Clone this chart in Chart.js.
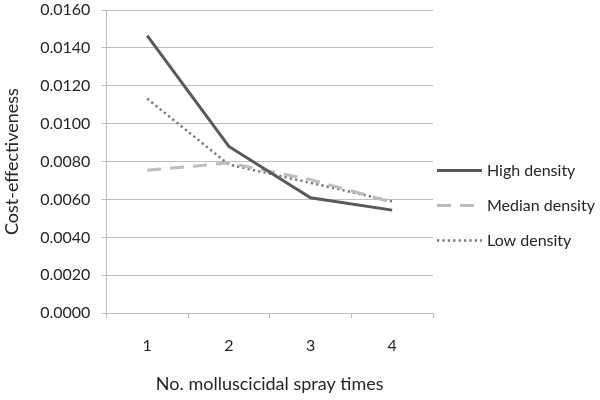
<!DOCTYPE html>
<html>
<head>
<meta charset="utf-8">
<script src="https://cdn.jsdelivr.net/npm/chart.js@4/dist/chart.umd.min.js"></script>
<style>
html,body{margin:0;padding:0;background:#fff;}
#wrap{width:600px;height:400px;}
</style>
</head>
<body>
<div id="wrap"><canvas id="c" width="600" height="400"></canvas></div>
<script>
const categories = ['1', '2', '3', '4'];
const highDensity = [0.01465, 0.0088, 0.00609, 0.00544];
const medianDensity = [0.00754, 0.00793, 0.00705, 0.00585];
const lowDensity = [0.01132, 0.00784, 0.00688, 0.00590];
const seriesNames = ['High density', 'Median density', 'Low density'];
const yAxisTitle = 'Cost-effectiveness';
const xAxisTitle = 'No. molluscicidal spray times';

const FONT = 'Lato, "Open Sans", sans-serif';
const TEXT = '#262626';

const sideLegend = {
  id: 'sideLegend',
  afterDraw(chart) {
    const ctx = chart.ctx;
    const area = chart.chartArea;
    const cy = (area.top + area.bottom) / 2 + 44;
    const step = 35;
    const n = chart.data.datasets.length;
    ctx.save();
    ctx.font = '16px ' + FONT;
    ctx.textBaseline = 'middle';
    ctx.fillStyle = TEXT;
    chart.data.datasets.forEach((ds, i) => {
      const y = cy + (i - (n - 1) / 2) * step;
      const x0 = area.right + 4;
      ctx.save();
      ctx.strokeStyle = ds.borderColor;
      ctx.lineWidth = ds.borderWidth;
      ctx.setLineDash(ds.borderDash || []);
      ctx.lineCap = 'butt';
      ctx.beginPath();
      ctx.moveTo(x0, y);
      ctx.lineTo(x0 + 45, y);
      ctx.stroke();
      ctx.restore();
      ctx.fillText(ds.label, x0 + 50, y);
    });
    ctx.restore();
  }
};

new Chart(document.getElementById('c'), {
  type: 'line',
  data: {
    labels: categories,
    datasets: [
      {label: seriesNames[0], data: highDensity, borderColor: '#595959', borderWidth: 3, pointRadius: 0, tension: 0, fill: false},
      {label: seriesNames[1], data: medianDensity, borderColor: '#bdbdbd', borderWidth: 3, borderDash: [14, 9], pointRadius: 0, tension: 0, fill: false},
      {label: seriesNames[2], data: lowDensity, borderColor: '#777777', borderWidth: 2.5, borderDash: [2.2, 3.2], pointRadius: 0, tension: 0, fill: false}
    ]
  },
  options: {
    responsive: false,
    animation: false,
    devicePixelRatio: 1,
    layout: {padding: {left: 0, right: 167, top: 0, bottom: 5}},
    plugins: {legend: {display: false}, tooltip: {enabled: false}},
    scales: {
      x: {
        offset: true,
        grid: {display: true, drawOnChartArea: false, drawTicks: true, tickLength: 5, offset: true, color: '#bdbdbd'},
        border: {color: '#bdbdbd'},
        ticks: {padding: 18, color: TEXT, font: {family: FONT, size: 16}},
        title: {display: true, text: xAxisTitle, color: TEXT, font: {family: FONT, size: 18}, padding: {top: 0, bottom: 0}}
      },
      y: {
        min: 0, max: 0.016,
        afterFit: s => { s.paddingTop = 10; },
        grid: {color: '#bdbdbd', tickLength: 5},
        border: {color: '#bdbdbd'},
        ticks: {stepSize: 0.002, padding: 11, color: TEXT, font: {family: FONT, size: 16}, callback: v => Number(v).toFixed(4)},
        title: {display: true, text: yAxisTitle, color: TEXT, font: {family: FONT, size: 18}, padding: {top: 1, bottom: 6.6}}
      }
    }
  },
  plugins: [sideLegend]
});
</script>
</body>
</html>
